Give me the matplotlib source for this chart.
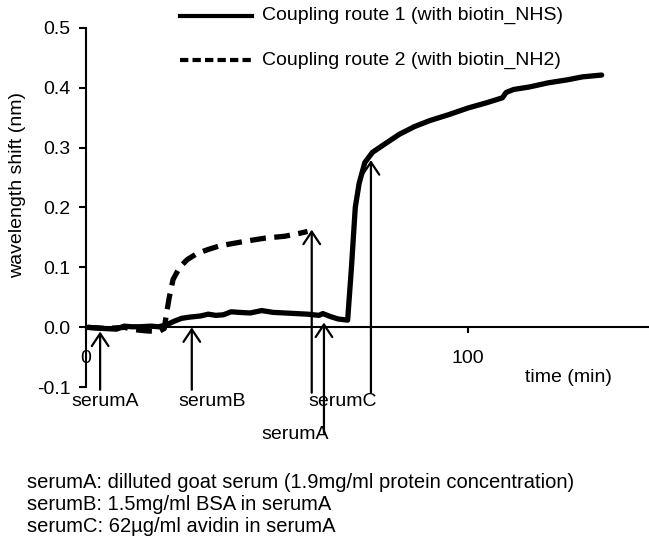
import matplotlib
matplotlib.use("Agg")
import matplotlib.pyplot as plt
from matplotlib.lines import Line2D

plt.rcParams['font.family'] = ['Liberation Sans', 'DejaVu Sans']
plt.rcParams['font.size'] = 14

# route 1 (with biotin_NHS), time in min / shift in nm
t1 = [0.5, 3, 5, 8, 10, 12, 14, 17, 19, 21, 23, 25, 27, 30, 32, 34, 36, 38, 40,
      43, 46, 49, 52, 55, 58, 61, 62, 64, 66, 68.5, 69.5, 70.5, 71.5, 73, 75,
      78, 82, 86, 90, 95, 100, 105, 109, 110, 112, 116, 121, 126, 130, 135]
v1 = [0.000, -0.001, -0.002, -0.003, 0.002, 0.001, 0.001, 0.002, 0.001, 0.004,
      0.010, 0.015, 0.017, 0.019, 0.022, 0.020, 0.021, 0.026, 0.025, 0.024,
      0.028, 0.025, 0.024, 0.023, 0.022, 0.020, 0.023, 0.018, 0.014, 0.012,
      0.100, 0.200, 0.240, 0.275, 0.292, 0.305, 0.322, 0.335, 0.345, 0.355,
      0.366, 0.375, 0.383, 0.392, 0.397, 0.401, 0.408, 0.413, 0.418, 0.421]

# route 2 (with biotin_NH2)
t2 = [0.5, 5, 10, 13, 16, 19, 20.5, 21, 21.8, 22.8, 24.5, 26.5, 29, 32, 35,
      38.5, 42, 47, 52, 56, 58]
v2 = [0.000, -0.002, 0.000, -0.004, -0.006, -0.007, -0.002, 0.020, 0.050,
      0.080, 0.100, 0.113, 0.123, 0.130, 0.136, 0.140, 0.144, 0.149, 0.152,
      0.157, 0.160]

# injection arrows: time, tip, tail
arrow_t = [3.7, 27.7, 59.1, 62.3, 74.6]
arrow_tip = [-0.007, 0.000, 0.163, 0.008, 0.279]
arrow_tail = [-0.104, -0.104, -0.109, -0.176, -0.109]

# arrow labels
lab_text = ['serumA', 'serumB', 'serumA', 'serumC']
lab_t = [5.0, 33.0, 54.7, 67.3]
lab_v = [-0.124, -0.124, -0.179, -0.124]

notes = ['serumA: dilluted goat serum (1.9mg/ml protein concentration)',
         'serumB: 1.5mg/ml BSA in serumA',
         'serumC: 62\u00b5g/ml avidin in serumA']

fig = plt.figure(figsize=(6.49, 5.40), dpi=100)
ax = fig.add_axes([0.1325, 0.2828, 0.8675, 0.6659])

ax.plot(t1, v1, color='black', lw=3.8, solid_capstyle='round', solid_joinstyle='round')
ax.plot(t2, v2, color='black', lw=3.8, dashes=(3, 1.6), dash_capstyle='butt')

for t, tip, tail in zip(arrow_t, arrow_tip, arrow_tail):
    ax.annotate('', xy=(t, tip), xytext=(t, tail), annotation_clip=False,
                arrowprops=dict(arrowstyle='->,head_length=0.45,head_width=0.3',
                                mutation_scale=20, lw=1.6, color='black',
                                shrinkA=0, shrinkB=0))
for s, t, v in zip(lab_text, lab_t, lab_v):
    ax.text(t, v, s, ha='center', va='center', clip_on=False)

ax.text(126.4, -0.084, 'time (min)', ha='center', va='center')

ax.set_xlim(0, 147.4)
ax.set_ylim(-0.1, 0.5)
ax.set_xticks([0, 100])
ax.set_yticks([-0.1, 0.0, 0.1, 0.2, 0.3, 0.4, 0.5])
ax.yaxis.set_major_formatter(plt.FormatStrFormatter('%.1f'))
ax.spines['top'].set_visible(False)
ax.spines['right'].set_visible(False)
ax.spines['bottom'].set_position(('data', 0))
for sp in ('left', 'bottom'):
    ax.spines[sp].set_linewidth(1.5)
ax.tick_params(axis='x', length=4, width=1.5, pad=12, labelsize=14)
ax.tick_params(axis='y', length=5, width=1.5, pad=6, labelsize=14)

fig.text(18 / 649, 1 - 185 / 540, 'wavelength shift (nm)', rotation=90,
         ha='center', va='center', fontsize=14)

# legend drawn by hand
fig.add_artist(Line2D([180 / 649, 252 / 649], [1 - 15.5 / 540] * 2,
                      color='black', lw=3.0))
fig.add_artist(Line2D([180 / 649, 252 / 649], [1 - 60 / 540] * 2,
                      color='black', lw=3.0, dashes=(2.0, 1.0)))
fig.text(262 / 649, 1 - 15.5 / 540, 'Coupling route 1 (with biotin_NHS)',
         ha='left', va='center', fontsize=14)
fig.text(262 / 649, 1 - 60 / 540, 'Coupling route 2 (with biotin_NH2)',
         ha='left', va='center', fontsize=14)

for i, line in enumerate(notes):
    fig.text(27 / 649, 1 - (483 + 21.5 * i) / 540, line, ha='left', va='center',
             fontsize=14.5)

fig.savefig('out.png', dpi=100)
